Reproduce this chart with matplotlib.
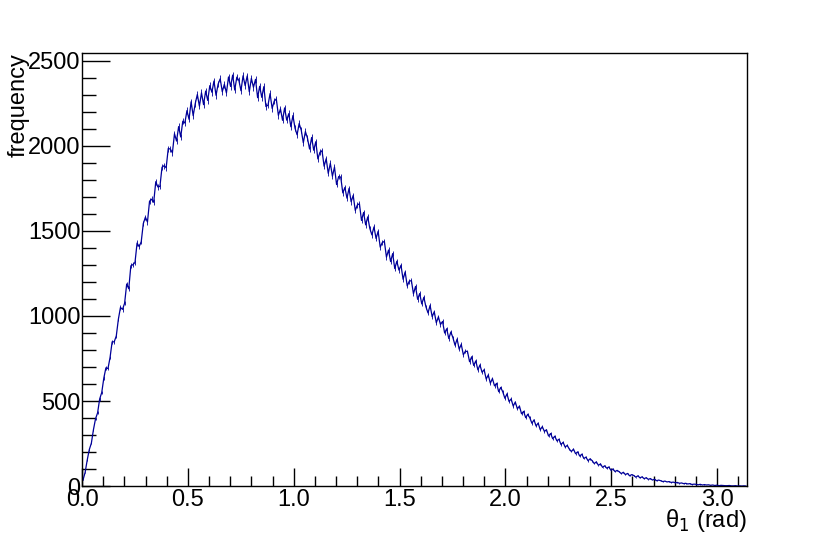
import numpy as np
import matplotlib
matplotlib.use("Agg")
import matplotlib.pyplot as plt
from matplotlib.ticker import MultipleLocator, FormatStrFormatter

plt.rcParams['font.family'] = ['Liberation Sans', 'DejaVu Sans']

# bin counts, 320 bins over [0, pi]
counts = [
    36, 80, 152, 214, 252, 331, 395, 430, 512, 550,
    635, 695, 691, 756, 848, 848, 883, 981, 1050, 1039,
    1075, 1188, 1160, 1295, 1302, 1315, 1429, 1408, 1437, 1544,
    1581, 1553, 1675, 1687, 1669, 1790, 1759, 1762, 1875, 1884,
    1872, 1985, 1982, 1960, 2072, 2029, 2114, 2053, 2146, 2135,
    2208, 2157, 2260, 2178, 2250, 2303, 2234, 2313, 2243, 2323,
    2268, 2355, 2316, 2382, 2298, 2364, 2395, 2319, 2363, 2312,
    2406, 2350, 2417, 2329, 2405, 2385, 2325, 2413, 2355, 2412,
    2319, 2398, 2345, 2392, 2284, 2351, 2286, 2349, 2232, 2240,
    2308, 2221, 2264, 2277, 2180, 2218, 2151, 2224, 2152, 2190,
    2113, 2179, 2105, 2066, 2132, 2093, 2019, 2085, 2046, 1982,
    2050, 1975, 2025, 1924, 1963, 1972, 1881, 1925, 1839, 1898,
    1822, 1876, 1773, 1820, 1817, 1724, 1756, 1693, 1750, 1672,
    1709, 1621, 1653, 1660, 1562, 1609, 1536, 1583, 1515, 1477,
    1524, 1456, 1498, 1405, 1432, 1439, 1346, 1388, 1320, 1367,
    1279, 1322, 1270, 1298, 1216, 1259, 1177, 1205, 1208, 1131,
    1174, 1098, 1132, 1071, 1110, 1054, 1018, 1062, 996, 1025,
    960, 995, 950, 968, 900, 925, 867, 906, 872, 828,
    864, 805, 833, 772, 793, 791, 731, 760, 709, 736,
    683, 712, 669, 684, 629, 653, 605, 632, 589, 604,
    555, 580, 553, 516, 542, 497, 512, 470, 494, 454,
    470, 425, 439, 402, 422, 401, 369, 389, 353, 370,
    331, 349, 321, 331, 294, 309, 278, 293, 266, 275,
    244, 257, 229, 239, 217, 203, 217, 190, 201, 176,
    187, 162, 170, 149, 160, 149, 132, 142, 122, 130,
    110, 119, 105, 112, 93, 100, 85, 92, 84, 73,
    81, 67, 74, 60, 67, 62, 52, 60, 48, 54,
    43, 49, 39, 44, 35, 40, 31, 35, 31, 26,
    29, 24, 26, 21, 23, 19, 21, 16, 18, 14,
    16, 12, 14, 9, 11, 10, 7, 10, 6, 8,
    6, 7, 4, 6, 3, 5, 2, 4, 3, 2,
    2, 3, 1, 1, 2, 0, 1, 0, 1, 0,
]
counts = np.array(counts, dtype=float)
edges = np.linspace(0, np.pi, len(counts) + 1)
centers = 0.5 * (edges[:-1] + edges[1:])

fig = plt.figure(figsize=(8.3, 5.39), dpi=100)
ax = fig.add_axes([0.0988, 0.0983, 0.8012, 0.8034])

ax.errorbar(centers, counts, yerr=0.4 * np.sqrt(counts), fmt="none", ecolor="#000099", elinewidth=0.6)
ax.plot(centers, counts, color="#000099", lw=0.9)

ax.set_xlim(0, np.pi)
ax.set_ylim(0, 2547)
ax.xaxis.set_major_locator(MultipleLocator(0.5))
ax.xaxis.set_minor_locator(MultipleLocator(0.1))
ax.yaxis.set_major_locator(MultipleLocator(500))
ax.yaxis.set_minor_locator(MultipleLocator(100))
ax.xaxis.set_major_formatter(FormatStrFormatter("%.1f"))

ax.tick_params(which="both", direction="in", top=False, right=False, labelsize=17, width=1)
ax.tick_params(axis="y", which="major", length=20, pad=1)
ax.tick_params(axis="y", which="minor", length=10)
ax.tick_params(axis="x", which="major", length=13, pad=2)
ax.tick_params(axis="x", which="minor", length=7)
for s in ax.spines.values():
    s.set_linewidth(1)

ax.set_ylabel("frequency", fontsize=17, loc="top", labelpad=-1)
ax.set_xlabel("θ$_1$ (rad)", fontsize=17, loc="right", labelpad=-3)

fig.savefig("out.png", dpi=100)
